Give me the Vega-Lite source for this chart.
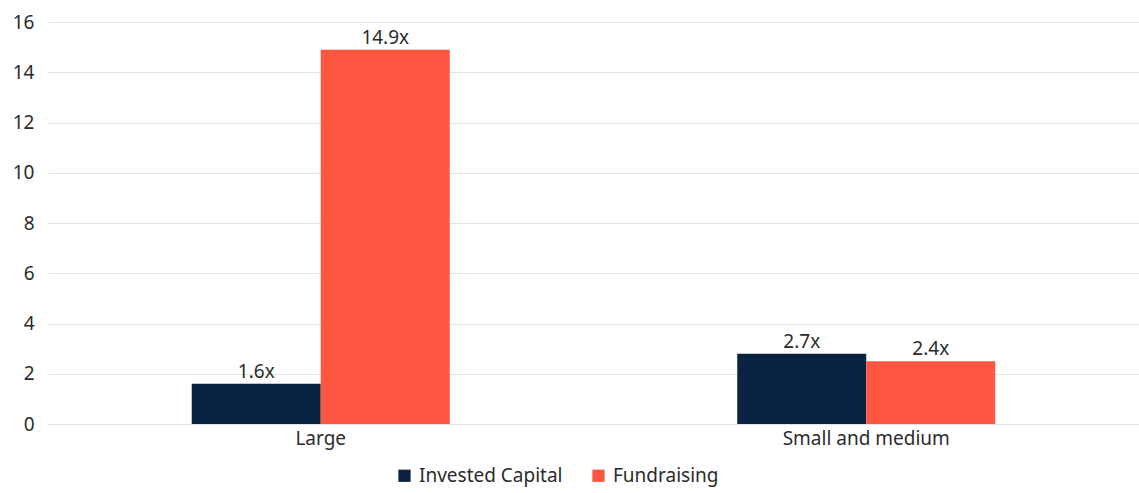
{
  "$schema": "https://vega.github.io/schema/vega-lite/v6.json",
  "width": 1091,
  "height": 402,
  "autosize": {"type": "none"},
  "padding": {"left": 48, "top": 22, "right": 0, "bottom": 69},
  "background": "white",
  "config": {
    "view": {"stroke": null},
    "font": "Noto Sans",
    "axis": {"labelFont": "Noto Sans", "labelColor": "#2b2b2b", "labelFontSize": 19},
    "legend": {"labelFont": "Noto Sans", "labelColor": "#2b2b2b", "labelFontSize": 19}
  },
  "data": {
    "values": [
      {"size": "Large", "series": "Invested Capital", "value": 1.6, "label": "1.6x"},
      {"size": "Large", "series": "Fundraising", "value": 14.9, "label": "14.9x"},
      {"size": "Small and medium", "series": "Invested Capital", "value": 2.8, "label": "2.7x"},
      {"size": "Small and medium", "series": "Fundraising", "value": 2.5, "label": "2.4x"}
    ]
  },
  "encoding": {
    "x": {
      "field": "size", "type": "nominal", "title": null,
      "scale": {"paddingInner": 0.527, "paddingOuter": 0.2635},
      "axis": {"labelAngle": 0, "domain": false, "ticks": false, "labelPadding": 5}
    },
    "xOffset": {"field": "series", "type": "nominal", "sort": ["Invested Capital", "Fundraising"], "scale": {"paddingInner": 0, "paddingOuter": 0}},
    "y": {
      "field": "value", "type": "quantitative", "title": null,
      "scale": {"domain": [0, 16], "nice": false},
      "axis": {"values": [0, 2, 4, 6, 8, 10, 12, 14, 16], "domain": false, "ticks": false, "labelPadding": 14, "gridColor": "#e4e4e4", "gridWidth": 1}
    }
  },
  "layer": [
    {
      "mark": {"type": "bar"},
      "encoding": {
        "color": {
          "field": "series", "type": "nominal",
          "sort": ["Invested Capital", "Fundraising"],
          "scale": {"domain": ["Invested Capital", "Fundraising"], "range": ["#0b2343", "#fe5741"]},
          "legend": {"title": null, "orient": "none", "legendX": 347, "legendY": 444, "direction": "horizontal", "symbolType": "square", "symbolSize": 150, "symbolStrokeWidth": 0, "columnPadding": 26, "labelOffset": 5}
        }
      }
    },
    {
      "mark": {"type": "text", "baseline": "bottom", "dy": -2, "fontSize": 19, "color": "#2b2b2b", "font": "Noto Sans"},
      "encoding": {"text": {"field": "label"}}
    }
  ]
}
